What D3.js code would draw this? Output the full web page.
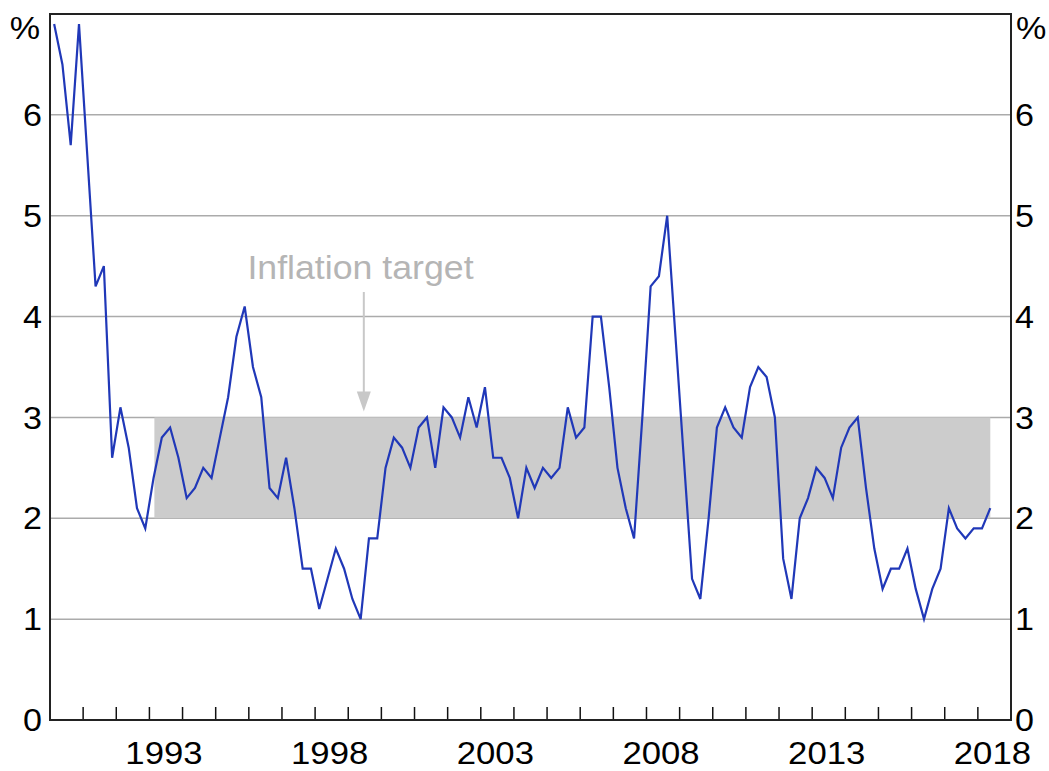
<!DOCTYPE html>
<html>
<head>
<meta charset="utf-8">
<script src="https://cdn.jsdelivr.net/npm/d3@7"></script>
<style>
  html, body { margin: 0; padding: 0; background: #fff; }
  svg { display: block; }
  text { font-family: "Liberation Sans", Arial, sans-serif; }
</style>
</head>
<body>
<svg id="chart" width="1049" height="771"></svg>
<script>
// Quarterly inflation, 1990 Q1 – 2018 Q2 (per cent)
const startYear = 1990;
const values = [
  6.9, 6.5, 5.7, 6.9,
  5.6, 4.3, 4.5, 2.6,
  3.1, 2.7, 2.1, 1.9,
  2.4, 2.8, 2.9, 2.6,
  2.2, 2.3, 2.5, 2.4,
  2.8, 3.2, 3.8, 4.1,
  3.5, 3.2, 2.3, 2.2,
  2.6, 2.1, 1.5, 1.5,
  1.1, 1.4, 1.7, 1.5,
  1.2, 1.0, 1.8, 1.8,
  2.5, 2.8, 2.7, 2.5,
  2.9, 3.0, 2.5, 3.1,
  3.0, 2.8, 3.2, 2.9,
  3.3, 2.6, 2.6, 2.4,
  2.0, 2.5, 2.3, 2.5,
  2.4, 2.5, 3.1, 2.8,
  2.9, 4.0, 4.0, 3.3,
  2.5, 2.1, 1.8, 3.0,
  4.3, 4.4, 5.0, 3.8,
  2.6, 1.4, 1.2, 2.0,
  2.9, 3.1, 2.9, 2.8,
  3.3, 3.5, 3.4, 3.0,
  1.6, 1.2, 2.0, 2.2,
  2.5, 2.4, 2.2, 2.7,
  2.9, 3.0, 2.3, 1.7,
  1.3, 1.5, 1.5, 1.7,
  1.3, 1.0, 1.3, 1.5,
  2.1, 1.9, 1.8, 1.9,
  1.9, 2.1
];
const dates = values.map((v, i) => startYear + i * 0.25 + 0.125);

const targetBand = [2, 3];          // inflation target range (per cent)
const targetSpan = [1993.15, 2018.375];
const yTicks = [0, 1, 2, 3, 4, 5, 6];
const gridTicks = [1, 2, 3, 4, 5, 6];
const xLabelYears = [1993, 1998, 2003, 2008, 2013, 2018];
const yearTicks = d3.range(1991, 2019);
const annotationText = "Inflation target";
const annotationYear = 1999.47;

const svg = d3.select("#chart");
const L = 50, R = 1011, T = 14, B = 720;

const x = d3.scaleLinear().domain([1990, 2019]).range([L, R]);
const y = d3.scaleLinear().domain([0, 7]).range([B, T]);

// gridlines
svg.append("g").selectAll("line").data(gridTicks).join("line")
  .attr("x1", L).attr("x2", R)
  .attr("y1", d => y(d)).attr("y2", d => y(d))
  .attr("stroke", "#ababab").attr("stroke-width", 1.5);

// target band
svg.append("rect")
  .attr("x", x(targetSpan[0]))
  .attr("width", x(targetSpan[1]) - x(targetSpan[0]))
  .attr("y", y(targetBand[1]))
  .attr("height", y(targetBand[0]) - y(targetBand[1]))
  .attr("fill", "#cccccc");

// year ticks (inward)
svg.append("g").selectAll("line").data(yearTicks).join("line")
  .attr("x1", d => x(d)).attr("x2", d => x(d))
  .attr("y1", B).attr("y2", B - 13)
  .attr("stroke", "#111").attr("stroke-width", 1.5);

// line
const line = d3.line().x((d, i) => x(dates[i])).y(d => y(d));
svg.append("path").datum(values)
  .attr("d", line)
  .attr("fill", "none")
  .attr("stroke", "#2038b8")
  .attr("stroke-width", 2.2)
  .attr("stroke-linejoin", "miter");

// frame
svg.append("rect")
  .attr("x", L).attr("y", T).attr("width", R - L).attr("height", B - T)
  .attr("fill", "none").attr("stroke", "#222").attr("stroke-width", 2);

// annotation
const ax = x(annotationYear);
svg.append("text")
  .attr("transform", "translate(360.5,279) scale(1.05,1)")
  .attr("text-anchor", "middle")
  .attr("font-size", 34)
  .attr("fill", "#b5b5b5")
  .text(annotationText);
svg.append("line")
  .attr("x1", ax).attr("x2", ax)
  .attr("y1", 292).attr("y2", y(targetBand[1]) - 20)
  .attr("stroke", "#c8c8c8").attr("stroke-width", 2);
svg.append("path")
  .attr("d", `M${ax - 7},${y(targetBand[1]) - 26} L${ax + 7},${y(targetBand[1]) - 26} L${ax},${y(targetBand[1]) - 6} Z`)
  .attr("fill", "#c8c8c8");

// y labels
const fs = 31;
const sx = 1.1;
svg.append("g").selectAll("text").data(yTicks).join("text")
  .attr("transform", d => `translate(${L - 8},${y(d)}) scale(${sx},1)`)
  .attr("dy", "0.36em")
  .attr("text-anchor", "end").attr("font-size", fs).attr("fill", "#000")
  .text(d => d);
svg.append("g").selectAll("text").data(yTicks).join("text")
  .attr("transform", d => `translate(${R + 4},${y(d)}) scale(${sx},1)`)
  .attr("dy", "0.36em")
  .attr("text-anchor", "start").attr("font-size", fs).attr("fill", "#000")
  .text(d => d);
svg.append("text").attr("transform", `translate(${L - 10},28) scale(${sx},1)`).attr("dy", "0.36em")
  .attr("text-anchor", "end").attr("font-size", fs).text("%");
svg.append("text").attr("transform", `translate(${R + 5},28) scale(${sx},1)`).attr("dy", "0.36em")
  .attr("text-anchor", "start").attr("font-size", fs).text("%");

// x labels
svg.append("g").selectAll("text").data(xLabelYears).join("text")
  .attr("transform", d => `translate(${x(d + 0.5) - 2},764) scale(1.12,1)`)
  .attr("text-anchor", "middle").attr("font-size", 31).attr("fill", "#000")
  .text(d => d);
</script>
</body>
</html>
